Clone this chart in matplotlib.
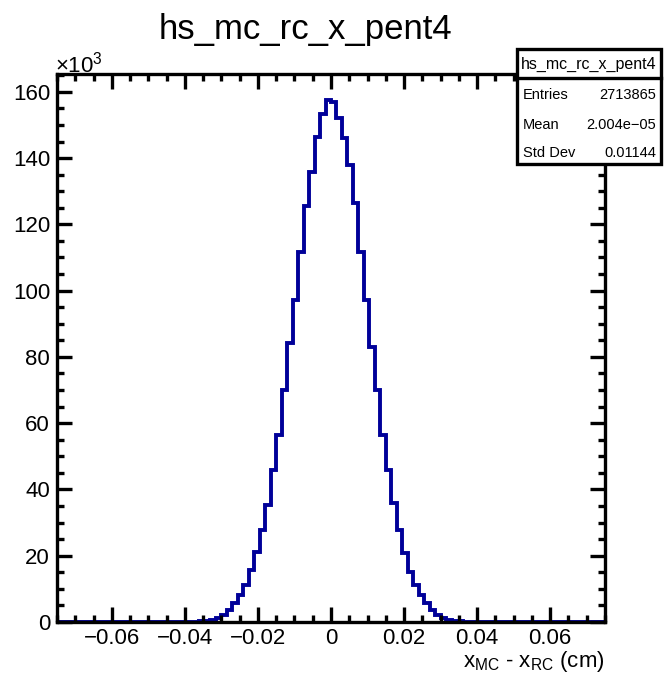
import numpy as np
import matplotlib
matplotlib.use('Agg')
import matplotlib.pyplot as plt
from matplotlib.patches import Rectangle
from matplotlib.lines import Line2D
from matplotlib.ticker import MultipleLocator, FuncFormatter

plt.rcParams['font.family'] = ['Liberation Sans', 'DejaVu Sans']
plt.rcParams['mathtext.fontset'] = 'custom'
plt.rcParams['mathtext.rm'] = 'Liberation Sans'
plt.rcParams['mathtext.default'] = 'regular'

# histogram: 100 bins over [-0.075, 0.075], contents in thousands of entries
x_min, x_max, n_bins = -0.075, 0.075, 100
counts_k = [
    0.0, 0.0, 0.0, 0.0, 0.0, 0.0, 0.0, 0.0, 0.0, 0.0,
    0.001, 0.001, 0.002, 0.002, 0.003, 0.004, 0.005, 0.007, 0.01, 0.013,
    0.018, 0.025, 0.035, 0.05, 0.08, 0.12, 0.2, 0.33, 0.6, 1.2,
    2.2, 3.6, 5.6, 8.2, 11.2, 15.7, 21.0, 27.8, 35.3, 45.9,
    56.5, 70.0, 84.1, 97.2, 111.8, 125.4, 135.8, 146.5, 153.3, 157.5,
    157.0, 152.2, 146.2, 137.8, 126.4, 111.8, 97.2, 83.1, 70.0, 56.5,
    45.9, 35.8, 27.8, 20.8, 15.2, 11.2, 8.2, 5.6, 3.6, 2.1,
    1.1, 0.55, 0.3, 0.18, 0.11, 0.07, 0.05, 0.035, 0.025, 0.018,
    0.013, 0.01, 0.007, 0.005, 0.004, 0.003, 0.002, 0.002, 0.001, 0.001,
    0.0, 0.0, 0.0, 0.0, 0.0, 0.0, 0.0, 0.0, 0.0, 0.0,
]

hist_name = "hs_mc_rc_x_pent4"
stat_labels = ["Entries", "Mean", "Std Dev"]
stat_values = ["2713865", "2.004e\u221205", "0.01144"]

edges = np.linspace(x_min, x_max, n_bins + 1)

fig = plt.figure(figsize=(6.64, 6.78), dpi=100)
ax = fig.add_axes([57 / 664, 1 - 622 / 678, 548 / 664, 548 / 678])

ax.stairs(counts_k, edges, color='#000099', linewidth=2.8)

ax.set_xlim(x_min, x_max)
ax.set_ylim(0, max(counts_k) * 1.05)

for s in ax.spines.values():
    s.set_linewidth(2.4)

ax.xaxis.set_major_locator(MultipleLocator(0.02))
ax.xaxis.set_minor_locator(MultipleLocator(0.005))
ax.yaxis.set_major_locator(MultipleLocator(20))
ax.yaxis.set_minor_locator(MultipleLocator(5))
ax.xaxis.set_major_formatter(FuncFormatter(lambda v, p: f"{v:g}".replace('-', '\u2212') if abs(v) > 1e-9 else "0"))
ax.yaxis.set_major_formatter(FuncFormatter(lambda v, p: f"{v:g}"))

ax.tick_params(which='both', direction='in', top=True, right=True, width=2.4)
ax.tick_params(which='major', length=10.5)
ax.tick_params(which='minor', length=5)
ax.tick_params(axis='x', labelsize=16, pad=4)
ax.tick_params(axis='y', labelsize=16, pad=5)

fig.text(55 / 664, 1 - 72 / 678, r'$\times$10$^{3}$', fontsize=16, va='baseline', ha='left')
fig.text(605 / 664, 1 - 662 / 678, r'x$_{MC}$ - x$_{RC}$ (cm)', fontsize=16,
         ha='right', va='center')

fig.text(305 / 664, 1 - 30 / 678, hist_name, fontsize=25, ha='center', va='center')

# stats box
bx0, bx1 = 517 / 664, 661 / 664
by0, by1 = 1 - 164 / 678, 1 - 49 / 678
fig.add_artist(Rectangle((bx0, by0), bx1 - bx0, by1 - by0, transform=fig.transFigure,
                         facecolor='white', edgecolor='black', linewidth=2.4, zorder=5))
fig.add_artist(Line2D([bx0, bx1], [1 - 78 / 678] * 2, transform=fig.transFigure,
                      color='black', linewidth=2.4, zorder=6))
fig.text((bx0 + bx1) / 2, 1 - 64 / 678, hist_name, fontsize=11.5, ha='center', va='center', zorder=7)
row_y = [95, 125, 153]
for lab, val, yy in zip(stat_labels, stat_values, row_y):
    fig.text(523 / 664, 1 - yy / 678, lab, fontsize=10.5, ha='left', va='center', zorder=7)
    fig.text(656 / 664, 1 - yy / 678, val, fontsize=10.5, ha='right', va='center', zorder=7)

fig.savefig("out.png", dpi=100)
